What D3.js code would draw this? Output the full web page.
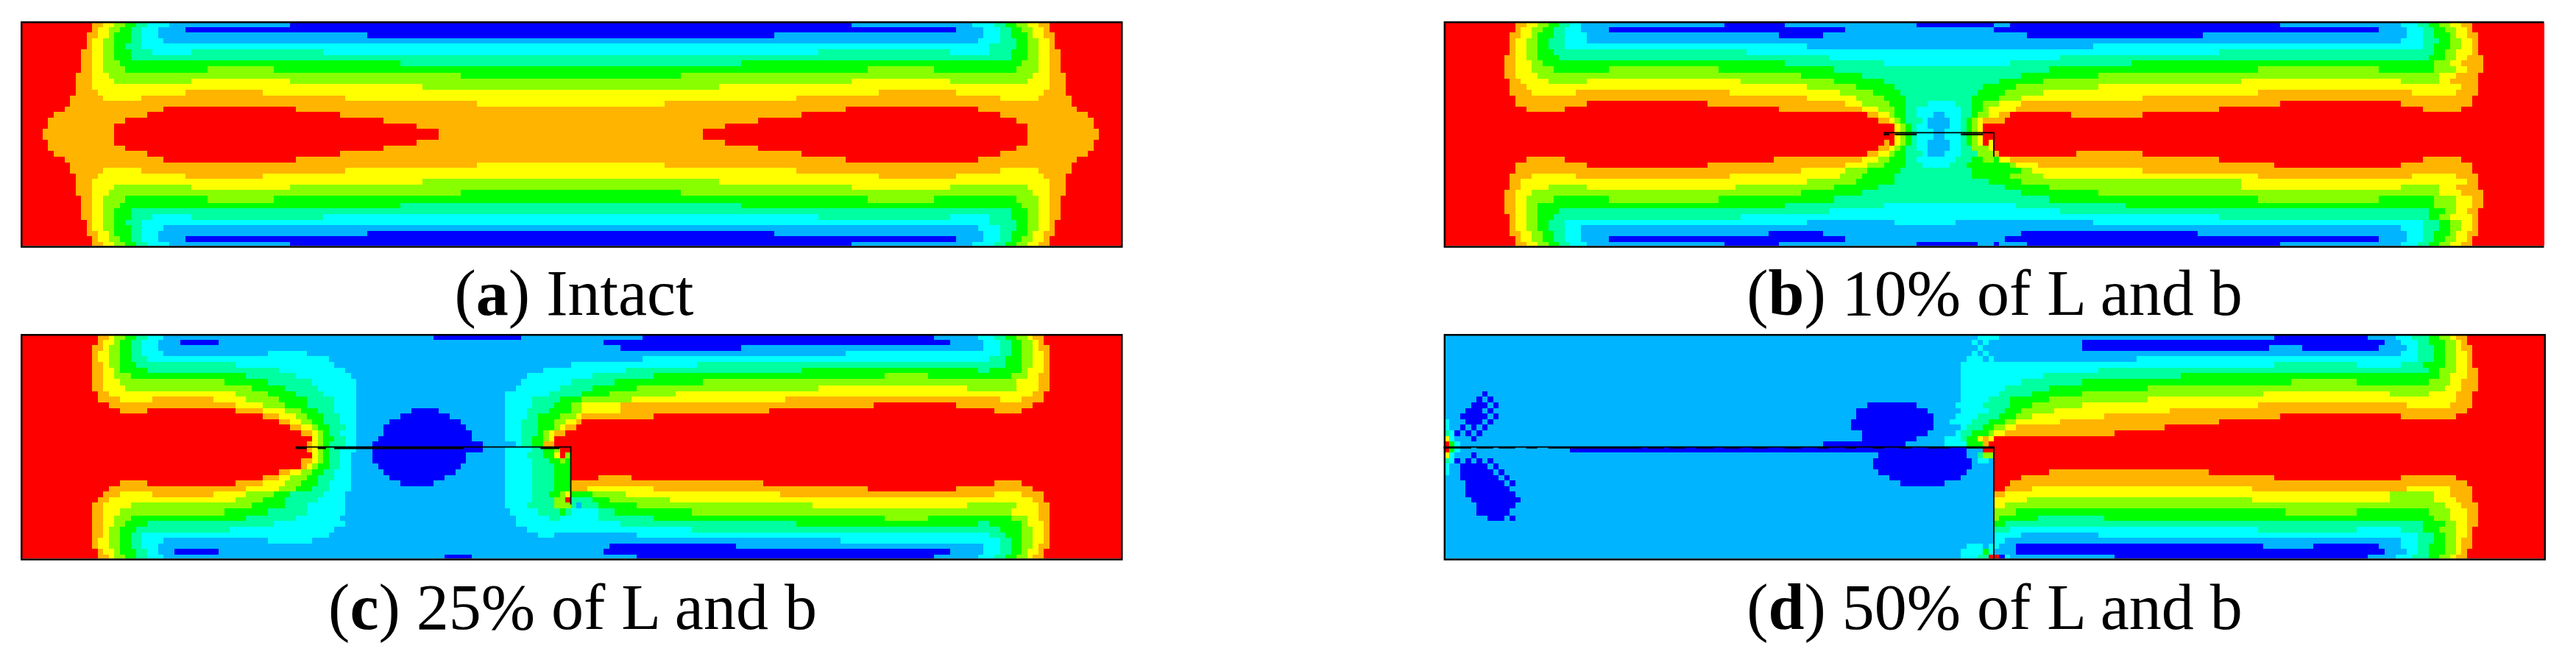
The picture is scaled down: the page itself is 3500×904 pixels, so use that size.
<!DOCTYPE html>
<html>
<head>
<meta charset="utf-8">
<script src="https://cdn.jsdelivr.net/npm/d3@7"></script>
<style>
  body { margin: 0; background: #fff; }
  text { font-family: "Liberation Serif", serif; fill: #000; }
</style>
</head>
<body>
<div id="chart"></div>
<script>
// stress levels, lowest to highest
const levels = ['d', 'b', 'c', 'm', 'g', 'l', 'y', 'o', 'r'];
const levelColors = ['#0000ff', '#00b4ff', '#00ffff', '#00ffa0', '#00ff00', '#88ff00', '#ffff00', '#ffb400', '#ff0000'];

// one string per element row of the 200 x 40 mesh: level + last column of the run
// whatever is left at the end of a row is red
const halfRowsA = [
  'r13 o15 y17 l19 g21 m23 c27 b49 d151 b173 c177 m179 g181 l183 y185 o187',
  'r13 o14 y16 l18 g20 m22 c25 b30 d170 b175 c178 m180 g182 l184 y186 o187',
  'r12 o14 y16 l17 g20 m22 c25 b63 d137 b175 c178 m180 g183 l184 y186 o188',
  'r12 o13 y15 l17 g20 m22 c26 b174 c178 m181 g183 l185 y187 o188',
  'r12 o13 y15 l17 g19 m22 c176 m181 g183 l185 y187 o188',
  'r11 o13 y15 l17 g20 m24 c31 m55 c145 m169 c176 m180 g183 l185 y187 o189',
  'r11 o13 y15 l17 g20 m180 g183 l185 y187 o189',
  'r11 o13 y15 l18 g69 m131 g182 l185 y187 o189',
  'r11 o13 y15 l19 g34 l46 g154 l166 g181 l185 y187 o189',
  'r10 o13 y16 l80 g120 l184 y187 o190',
  'r10 o13 y17 l31 y49 l151 y169 l183 y187 o190',
  'r10 o13 y73 l127 y187 o190',
  'r10 o14 y30 o44 y156 o170 y186 o190',
  'r9 o15 y22 o59 y141 o178 y185 o191',
  'r9 o83 y117 o191',
  'r8 o26 r50 o150 r174 o192',
  'r6 o23 r58 o142 r178 o194',
  'r5 o19 r66 o134 r181 o195',
  'r5 o17 r72 o128 r183 o195',
  'r4 o17 r76 o124 r183 o196'
];
const rowsA = halfRowsA.concat(halfRowsA.slice().reverse()); // intact plate is symmetric

const rowsB = [
  'r13 o15 y17 l19 g21 m23 c25 b51 d62 b86 d100 b103 d152 b174 c177 m179 g181 l183 y185 o187',
  'r13 o14 y16 l18 g20 m22 c25 b30 d73 b100 d170 b175 c178 m180 g182 l184 y186 o187',
  'r12 o14 y16 l17 g20 m22 c26 b61 d69 b106 d138 b175 c178 m180 g183 l184 y186 o188',
  'r12 o13 y15 l17 g19 m22 c26 b174 c178 m181 g183 l185 y187 o188',
  'r12 o13 y15 l17 g19 m22 c66 b118 c178 m180 g183 l185 y187 o188',
  'r12 o13 y15 l17 g20 m55 c141 m180 g182 l184 y187 o188',
  'r11 o13 y15 l17 g21 m70 c112 m179 g182 l184 y186 o189',
  'r11 o13 y16 l18 g62 m80 c103 m125 g180 l183 y185 o189',
  'r11 o13 y16 l20 g30 l50 g71 m110 g148 l170 g180 l184 y186 o189',
  'r11 o13 y17 l65 g76 m105 g119 l181 y184 o188',
  'r12 o14 y19 l26 y54 l71 g80 m101 g109 l145 y174 l181 y183 o188',
  'r12 o15 y66 l75 g82 m98 g104 l119 y185 o188',
  'r12 o16 y24 o52 y72 l78 g83 m97 g102 l109 y148 o176 y184 o188',
  'r13 o66 y75 l80 g84 m96 g101 l105 y127 o187',
  'r13 o26 r48 o73 y76 l81 g84 m88 c93 m96 g98 l101 y105 o152 r174 o187',
  'r15 o22 r61 o76 y79 l82 g84 m86 c94 m96 g98 l99 y104 o141 r178 o185',
  'r77 o79 y81 l82 g84 m86 c89 b91 c94 m96 g97 l99 y101 o103 r114 o127',
  'r79 o81 y82 l83 g84 m87 c88 b92 c94 m95 g96 l97 y98 o102',
  'r82 y83 l84 g85 m86 c88 b92 c94 m95 g96 l97 y98',
  'r82 y83 l84 g85 m86 c89 b91 c94 m95 g96 l97 y98',
  'r82 y83 l84 g85 m86 c89 b91 c94 m95 g96 l97 y98',
  'r80 o81 r82 y83 l84 g85 m86 c88 b92 c94 m95 g96 l97 y98 r99 y100',
  'r79 o81 y82 l83 g84 m86 c88 b92 c94 m96 l99 y100',
  'r77 o79 y81 l82 g84 m87 c88 b91 c94 m97 l100 o101 r115 o127',
  'r15 o22 r60 o76 y79 l81 g84 m86 c93 m96 g98 l100 g101 y103 o141 r178 o185',
  'r13 o26 r48 o73 y77 l80 g84 m87 c92 m95 g103 l104 y108 o151 r174 o187',
  'r13 o65 y73 l77 g83 m96 g105 l107 y127 o187',
  'r12 o16 y24 o52 y72 l76 g82 m96 g103 l109 y148 o176 y184 o188',
  'r12 o14 y66 l75 g82 m99 g105 l145 y186 o188',
  'r12 o14 y19 l26 y53 l71 g79 m102 g110 l145 y174 l181 y184 o188',
  'r11 o13 y16 l65 g76 m105 g119 l181 y185 o189',
  'r11 o13 y15 l20 g30 l50 g71 m110 g148 l170 g180 l184 y187 o189',
  'r11 o13 y15 l17 g62 m80 c104 m124 g180 l184 y187 o189',
  'r11 o13 y15 l17 g21 m70 c112 m179 g182 l184 y186 o188',
  'r12 o13 y15 l17 g20 m54 c141 m179 g181 l183 y187 o188',
  'r12 o13 y15 l17 g19 m22 c66 b82 c93 b118 c178 m181 g183 l185 y187 o188',
  'r12 o13 y15 l17 g19 m22 c25 b174 c178 m181 g183 l185 y187 o188',
  'r12 o14 y16 l18 g20 m22 c25 b59 d69 b105 d137 b175 c178 m180 g183 l184 y186 o188',
  'r13 o14 y16 l18 g20 m22 c25 b30 d73 b102 d170 b175 c178 m180 g182 l184 y186 o187',
  'r13 o15 y17 l19 g21 m23 c26 b51 d61 b86 d97 b100 d101 b106 d152 b174 c177 m179 g181 l183 y185 o187'
];

const rowsC = [
  'r14 o16 y17 l19 g21 m23 c26 b75 d91 b113 d166 b174 c177 m179 g181 l183 y184 o186',
  'r14 o15 y17 l18 g20 m22 c25 b29 d36 b106 d169 b175 c178 m180 g182 l184 y185 o186',
  'r13 o15 y16 l18 g20 m22 c25 b109 d131 b175 c178 m180 g182 l184 y185 o187',
  'r13 o14 y16 l18 g20 m22 c26 b45 c52 b150 c178 m180 g182 l184 y186 o187',
  'r13 o14 y16 l18 g20 m23 c56 b113 c176 m179 g182 l184 y186 o187',
  'r13 o15 y16 l18 g21 m39 c57 b100 c123 m179 g182 l184 y186 o187',
  'r13 o15 y17 l18 g23 m47 c59 b95 c110 m142 g174 m176 g182 l183 y186 o187',
  'r13 o15 y17 l20 g41 m50 c60 b92 c104 m115 g157 l165 g180 l183 y185 o187',
  'r13 o15 y18 l37 g45 m53 c61 b91 c100 m108 g124 l181 y185 o187',
  'r13 o15 y19 l42 g48 m54 c61 b90 c98 m104 g112 l145 y172 l181 y185 o187',
  'r14 o16 y39 l45 g50 m55 c61 b88 c96 m102 g107 l119 y184 o186',
  'r14 o18 y24 o35 y41 l47 g52 m57 c61 b88 c93 m98 g102 l111 y139 o178 y182 o186',
  'r16 o39 y44 l48 g52 m57 c61 b88 c93 m97 g100 l102 y109 o155 r170 o184',
  'r18 o23 r39 o44 y48 l51 g54 m57 c61 b71 d76 b88 c92 m96 g100 l102 y109 o136 r177 o182',
  'r44 o47 y50 l52 g55 m58 c61 b69 d78 b88 c92 m94 g98 l101 y102 o115',
  'r47 o49 y51 l53 g55 m58 c61 b67 d80 b88 c91 m94 g97 l99 y101 o102',
  'r49 o51 y53 l54 g56 m59 c61 b66 d81 b88 c91 m94 g97 l98 y99 o101',
  'r51 o53 y54 l55 g56 m58 c61 b66 d82 b88 c91 m94 g95 l96 y97 o99',
  'r53 y54 l55 g57 m59 c61 b65 d82 b88 c91 m93 g95 l96 y97',
  'r52 o53 y54 l55 g56 m59 c61 b64 d84 b90 c91 m93 g95 o97',
  'r52 o53 y54 l55 g56 m58 c61 b64 d84 b88 c93 m95 g97 l98',
  'r53 y54 l55 g56 m58 c60 b64 d81 b88 c92 m95 g97 y98 r99 l100',
  'r51 o53 y54 l55 g56 m58 c60 b64 d81 b88 c93 m96 g98 l99 g100',
  'r51 o52 y53 l54 g56 m58 c60 b65 d80 b88 c93 m97 g100',
  'r47 o49 y51 l53 g55 m57 c60 b66 d79 b88 c93 m97 g100',
  'r44 o47 y49 l52 g54 m57 c60 b67 d77 b88 c93 m97 g100 r105 o111',
  'r18 o23 r39 o44 y48 l51 g54 m56 c60 b69 d75 b88 c93 m97 g100 o135 r177 o182',
  'r16 o41 y47 l50 g53 m56 c60 b88 c93 m97 g100 o103 y115 o154 r170 o184',
  'r15 o18 y24 o35 y41 l46 g49 m55 c59 b88 c93 m96 g98 l99 y100 g104 l110 y138 o177 y182 o186',
  'r14 o16 y39 l44 g48 m54 c59 b88 c93 m97 l99 r100 m104 g107 l118 y184 o186',
  'r13 o15 y20 l42 g48 m52 c59 b88 c92 m97 l100 m101 b102 m105 g112 l144 y172 l181 y185 o187',
  'r13 o15 y18 l37 g45 m52 c59 b89 c94 m98 g99 m100 c105 m108 g122 l180 y185 o187',
  'r13 o15 y17 l20 g41 m50 c58 b90 c96 m98 c105 m115 g157 l165 g180 l183 y185 o187',
  'r13 o15 y17 l19 g23 m46 c59 b90 c109 m141 g174 m176 g182 l183 y186 o187',
  'r13 o15 y16 l18 g21 m38 c57 b92 c122 m178 g182 l184 y186 o187',
  'r13 o15 y16 l18 g20 m22 c56 b94 c97 b112 c176 m179 g182 l184 y186 o187',
  'r13 o14 y16 l18 g20 m22 c26 b45 c53 b149 c178 m180 g182 l184 y186 o187',
  'r13 o14 y16 l18 g20 m22 c25 b107 d130 b175 c178 m180 g182 l184 y185 o187',
  'r14 o15 y17 l18 g21 m23 c25 b28 d36 b106 d169 b175 c178 m180 g182 l183 y185 o186',
  'r14 o16 y17 l19 g21 m23 c26 b77 d82 b112 d166 b174 c177 m179 g181 l183 y184 o186'
];

const rowsD = [
  'b97 c101 b151 d168 b173 c176 m179 g181 l183 y184 o186',
  'b96 c97 b98 c99 b116 d171 b174 c177 m179 g182 l184 y185 o186',
  'b97 c98 b116 d150 b156 d170 b175 c177 m180 g182 l184 y185 o187',
  'b96 c97 b98 c99 b174 c177 m180 g182 l184 y186 o187',
  'b95 c98 b99 c100 b126 c177 m180 g182 l184 y186 o187',
  'b94 c151 m166 c174 m178 g182 l184 y186 o187',
  'b94 c119 m179 g181 l184 y186 o188',
  'b94 c109 m134 g181 l183 y186 o188',
  'b94 c105 m116 g154 l166 g179 l183 y185 o188',
  'b94 c102 m110 g128 l182 y185 o188',
  'b7 d8 b94 c101 m107 g116 l149 y172 l179 y184 o187',
  'b6 d7 b8 d9 b94 c99 m103 g110 l128 y184 o187',
  'b5 d8 b9 d10 b77 d86 b93 c98 m103 g107 l116 y148 o175 y183 o187',
  'b4 d7 b8 d9 b75 d88 b94 c99 m102 g105 l111 y132 o186',
  'b3 d8 b9 d10 b75 d89 b93 c97 m101 g104 l107 y120 o152 r174 o184',
  'c1 b4 d7 b8 d9 b74 d89 b92 c96 m99 g102 l104 y112 o141',
  'c1 b3 d4 b5 d6 b7 d8 b74 d89 b94 c95 m98 g100 l102 y104 o131',
  'm1 c2 d3 b4 d5 b6 d7 b76 d88 b93 c94 m96 g99 l100 y102 o122',
  'y1 c2 b5 d6 b76 d86 b91 c94 m95 g97 y98 o99 y100',
  'r1 g2 c3 b69 d84 b91 c95 g98 o99',
  'r1 g2 c3 b23 d95 b98',
  'y1 c2 b5 d6 b79 d95 b97 m98 l100',
  'm1 c2 d3 b4 d5 b6 d7 b8 d9 b78 d96 b97 c99 b100',
  'c1 b3 d8 b9 d10 b78 d96 b100',
  'c1 b3 d9 b10 d11 b79 d95 b100 r110 o139',
  'b3 d10 b11 d12 b81 d94 b100 r105 o151 r174 o184',
  'b4 d11 b12 d13 b83 d91 b100 r103 o186',
  'b4 d12 b100 r102 o107 y147 o175 y183 o187',
  'b4 d13 b100 o102 y172 l180 y183 o187',
  'b5 d14 b100 y106 l147 y172 l180 y184 o187',
  'b6 d13 b100 y102 l182 y185 o188',
  'b6 d12 b100 l104 g153 l166 g179 l183 y186 o188',
  'b8 d11 b12 d13 b100 l101 g108 m120 g180 l183 y186 o188',
  'b100 g102 m178 g182 l184 y186 o188',
  'b100 m103 c148 m166 c174 m178 g181 l184 y186 o187',
  'b100 c105 b119 c177 m180 g182 l184 y186 o187',
  'b100 c102 b174 c177 m180 g182 l184 y185 o187',
  'b95 c98 b99 c101 b104 d149 b158 d170 b174 c177 m179 g182 l184 y185 o187',
  'b94 c98 g99 c100 b104 d171 b175 c177 m179 g182 l184 y185 o186',
  'b94 c97 m99 r101 d102 c103 b122 d168 b173 c176 m179 g181 l183 y184 o186'
];

// crack lines in mesh coordinates [column, row]
const crackA = [];
const crackB = [[80, 19.7], [100, 19.7], [100, 24]];
const crackC = [[50, 20], [100, 20], [100, 30.3]];
const crackD = [[0, 20], [100, 20], [100, 40]];
// opened-up parts of the crack: [from column, to column, row]
const thickB = [[80, 81, 20], [82, 86, 20], [94, 98, 20]];
const thickC = [[50, 52, 20.2], [54, 55.5, 20.2], [57, 80.5, 20.2], [94.5, 98, 20.2]];
const thickD = [[0, 5, 20.1], [6, 9, 20.1], [10, 13, 20.1], [15, 17, 20.1], [19, 24, 20.1], [24, 36, 20.1], [37, 40, 20.1], [41, 44, 20.1], [46, 49, 20.1], [51, 54, 20.1], [56, 59, 20.1], [62, 65, 20.1], [68, 70, 20.1], [73, 75, 20.1], [78, 80, 20.1], [83, 85, 20.1], [88, 92, 20.1], [95, 100, 20.1]];

const letters = ['a', 'b', 'c', 'd'];
const captions = ['Intact', '10% of L and b', '25% of L and b', '50% of L and b'];
const allRows = [rowsA, rowsB, rowsC, rowsD];
const allCracks = [crackA, crackB, crackC, crackD];
const allThick = [[], thickB, thickC, thickD];

const cols = 200, rowCount = 40;
const width = 3500, height = 904;
const panelW = 1495;
const lefts = [28, 1961.5, 28, 1961.5];
const tops = [31, 31, 456, 456];
const captionX = [780, 2710, 778, 2710];
const captionY = [428, 428, 855, 855];
const fontSize = 88;

const svg = d3.select('#chart').append('svg')
  .attr('width', width)
  .attr('height', height);

const color = d3.scaleOrdinal().domain(levels).range(levelColors);

function parseRow(str, rowIndex) {
  let runs = [];
  let start = 0;
  str.split(' ').forEach(tok => {
    let end = +tok.slice(1);
    runs.push({ level: tok[0], start: start, end: end, row: rowIndex });
    start = end;
  });
  if (start < cols) runs.push({ level: 'r', start: start, end: cols, row: rowIndex });
  return runs;
}

function drawPanel(i) {
  let x = d3.scaleLinear().domain([0, cols]).range([lefts[i], lefts[i] + panelW]);
  // outer rows of the picture came out uneven when it was rescaled
  let y = d3.scaleLinear()
    .domain([0, 1, 8, 9, 31, 32, 39, rowCount])
    .range([0, 5.67, 58.67, 68.33, 235, 244.67, 298, 303.33].map(d => d + tops[i]));

  let g = svg.append('g');
  let runs = allRows[i].flatMap(parseRow);

  g.selectAll('rect')
    .data(runs)
    .enter()
    .append('rect')
    .attr('x', d => x(d.start))
    .attr('y', d => y(d.row))
    .attr('width', d => x(d.end) - x(d.start))
    .attr('height', d => y(d.row + 1) - y(d.row))
    .attr('fill', d => color(d.level))
    .attr('shape-rendering', 'crispEdges');

  if (allCracks[i].length) {
    let line = d3.line().x(d => x(d[0])).y(d => y(d[1]));
    g.append('path')
      .attr('d', line(allCracks[i]))
      .attr('fill', 'none')
      .attr('stroke', '#000')
      .attr('stroke-width', 1.8);
  }

  g.selectAll('line.thick')
    .data(allThick[i])
    .enter()
    .append('line')
    .attr('class', 'thick')
    .attr('x1', d => x(d[0]))
    .attr('x2', d => x(d[1]))
    .attr('y1', d => y(d[2]))
    .attr('y2', d => y(d[2]))
    .attr('stroke', '#000')
    .attr('stroke-width', 2.5);

  // frame, panel b has lost its right side in the original
  let fx0 = x(0) + 1.3, fx1 = x(cols) + 1.3, fy0 = y(0) - 0.8, fy1 = y(rowCount) + 1.2;
  let framePath = d3.path();
  if (i === 1) {
    framePath.moveTo(fx1 - 1.3, fy0);
    framePath.lineTo(fx0, fy0);
    framePath.lineTo(fx0, fy1);
    framePath.lineTo(fx1 - 1.3, fy1);
  } else {
    framePath.rect(fx0, fy0, fx1 - fx0, fy1 - fy0);
  }
  g.append('path')
    .attr('d', framePath.toString())
    .attr('fill', 'none')
    .attr('stroke', '#000')
    .attr('stroke-width', 2.4);

  let label = svg.append('text')
    .attr('x', captionX[i])
    .attr('y', captionY[i])
    .attr('text-anchor', 'middle')
    .attr('font-size', fontSize);
  label.append('tspan').text('(');
  label.append('tspan').attr('font-weight', 'bold').text(letters[i]);
  label.append('tspan').text(') ' + captions[i]);
}

letters.forEach((d, i) => drawPanel(i));
</script>
</body>
</html>
